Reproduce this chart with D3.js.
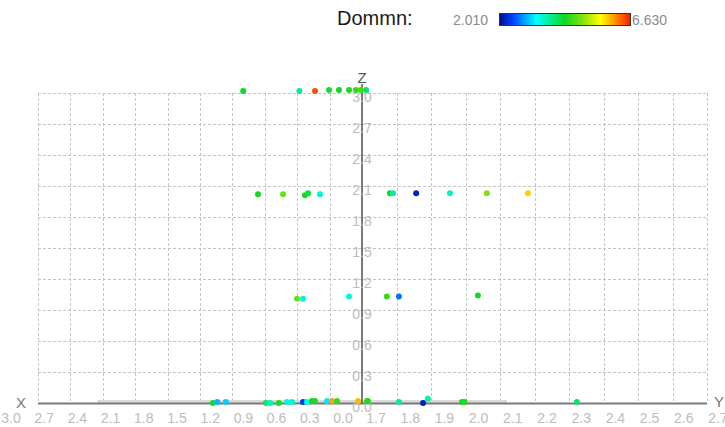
<!DOCTYPE html>
<html>
<head>
<meta charset="utf-8">
<script src="https://cdn.jsdelivr.net/npm/d3@7"></script>
<style>
  html, body { margin: 0; padding: 0; background: #fff; }
  svg { display: block; font-family: "Liberation Sans", Arial, sans-serif; }
</style>
</head>
<body>
<div id="chart"></div>
<script>
// tick labels along the floor and the vertical axis
const xTicks = [3.0, 2.7, 2.4, 2.1, 1.8, 1.5, 1.2, 0.9, 0.6, 0.3, 0.0];
const yTicks = [1.7, 1.8, 1.9, 2.0, 2.1, 2.2, 2.3, 2.4, 2.5, 2.6, 2.7];
const zTicks = [0.0, 0.3, 0.6, 0.9, 1.2, 1.5, 1.8, 2.1, 2.4, 2.7, 3.0];

// colour legend
const legendTitle = "Dommn:";
const valueDomain = [2.010, 6.630];

// points: [floor position, z, value]
// floor position < 0 runs out along X (X units), > 0 along Y (Y units past the axis)
const points = [
    // z ~ 3.0
    [-1.10, 3.02, 4.3], [-0.58, 3.02, 3.8], [-0.435, 3.02, 6.4], [-0.305, 3.03, 4.2],
    [-0.213, 3.03, 4.3], [-0.12, 3.03, 4.4], [-0.056, 3.03, 4.5], [-0.01, 3.03, 4.6],
    [0.012, 3.03, 4.0],
    // z ~ 2.0
    [-0.963, 2.02, 4.3], [-0.731, 2.02, 4.8], [-0.528, 2.01, 4.3], [-0.50, 2.03, 4.2],
    [-0.389, 2.02, 3.5], [0.081, 2.03, 4.3], [0.090, 2.03, 3.7], [0.157, 2.03, 2.2],
    [0.255, 2.03, 3.6], [0.362, 2.03, 4.9], [0.481, 2.03, 5.8],
    // z ~ 1.0
    [-0.602, 1.01, 4.8], [-0.546, 1.01, 3.5], [-0.12, 1.03, 3.5], [0.072, 1.03, 4.5],
    [0.107, 1.03, 2.7], [0.336, 1.04, 4.3],
    // z ~ 0.0
    [-1.38, 0.00, 4.4], [-1.34, 0.01, 3.0], [-1.26, 0.01, 3.1], [-0.89, 0.00, 4.0],
    [-0.85, 0.00, 3.6], [-0.77, 0.00, 4.4], [-0.694, 0.01, 3.5], [-0.648, 0.01, 3.5],
    [-0.546, 0.01, 2.4], [-0.509, 0.01, 3.4], [-0.463, 0.02, 4.3], [-0.435, 0.02, 4.4],
    [-0.324, 0.02, 3.2], [-0.278, 0.02, 6.0], [-0.231, 0.02, 4.5], [-0.037, 0.02, 5.9],
    [0.0145, 0.02, 4.6], [0.017, 0.02, 4.4], [0.107, 0.01, 3.8], [0.177, 0.00, 2.2],
    [0.191, 0.04, 3.7], [0.29, 0.01, 4.3], [0.297, 0.01, 4.4], [0.623, 0.01, 4.0]
];

const width = 725, height = 427;

// back wall grid
const hScale = d3.scaleLinear([-3.0, 0, 1.0], [38, 362, 707]);
const zScale = d3.scaleLinear([0, 3.0], [403, 93]);
// front edge where the floor labels sit
const xLabel = d3.scaleLinear([3.0, 0.0], [11, 343]);
const yLabel = d3.scaleLinear([1.7, 2.7], [376, 718]);

const color = d3.scaleLinear()
    .domain([0, 0.1, 0.28, 0.5, 0.63, 0.77, 0.9, 1].map(t => valueDomain[0] + t * (valueDomain[1] - valueDomain[0])))
    .range(["#000c90", "#0040ff", "#00ffff", "#10d820", "#80e010", "#ffff00", "#ff8000", "#ff1800"])
    .clamp(true);

const svg = d3.select("#chart")
    .append("svg")
    .attr("width", width)
    .attr("height", height)
    .attr("viewBox", [0, 0, width, height]);

// grid
const vLines = d3.range(-3.0, 0.001, 0.3).concat(d3.range(0.1, 1.001, 0.1));
const grid = svg.append("g")
    .attr("stroke", "#c4c4c4")
    .attr("stroke-width", 1)
    .attr("stroke-dasharray", "3,2");

grid.selectAll("line.v")
    .data(vLines)
    .join("line")
    .attr("class", "v")
    .attr("x1", d => Math.round(hScale(d)) + 0.5)
    .attr("x2", d => Math.round(hScale(d)) + 0.5)
    .attr("y1", zScale(3.0))
    .attr("y2", zScale(0));

grid.selectAll("line.h")
    .data(zTicks.filter(d => d > 0))
    .join("line")
    .attr("class", "h")
    .attr("x1", hScale(-3.0))
    .attr("x2", hScale(1.0))
    .attr("y1", d => Math.round(zScale(d)) + 0.5)
    .attr("y2", d => Math.round(zScale(d)) + 0.5);

// floor seen edge-on
svg.append("rect")
    .attr("x", hScale(-2.45))
    .attr("y", zScale(0) - 3)
    .attr("width", hScale(0.42) - hScale(-2.45))
    .attr("height", 3)
    .attr("fill", "#dadada");

svg.append("line")
    .attr("x1", hScale(-3.0))
    .attr("x2", hScale(1.0))
    .attr("y1", zScale(0) + 0.5)
    .attr("y2", zScale(0) + 0.5)
    .attr("stroke", "#7a7a7a")
    .attr("stroke-width", 2);

// z axis
svg.append("line")
    .attr("x1", hScale(0))
    .attr("x2", hScale(0))
    .attr("y1", 84)
    .attr("y2", zScale(0))
    .attr("stroke", "#555")
    .attr("stroke-width", 1.5);

svg.append("g")
    .attr("fill", "#bcbcbc")
    .attr("font-size", 14)
    .attr("text-anchor", "middle")
    .selectAll("text")
    .data(zTicks)
    .join("text")
    .attr("x", hScale(0))
    .attr("y", d => zScale(d) + 4)
    .attr("dy", "0.35em")
    .text(d => d.toFixed(1));

// floor labels
const floorLabels = svg.append("g")
    .attr("fill", "#bcbcbc")
    .attr("font-size", 14)
    .attr("text-anchor", "middle");

floorLabels.selectAll("text.x")
    .data(xTicks)
    .join("text")
    .attr("class", "x")
    .attr("x", d => xLabel(d))
    .attr("y", 418)
    .attr("dy", "0.35em")
    .text(d => d.toFixed(1));

floorLabels.selectAll("text.y")
    .data(yTicks)
    .join("text")
    .attr("class", "y")
    .attr("x", d => yLabel(d))
    .attr("y", 418)
    .attr("dy", "0.35em")
    .text(d => d.toFixed(1));

// axis names
svg.append("text").attr("x", 21).attr("y", 403).attr("dy", "0.35em")
    .attr("text-anchor", "middle").attr("font-size", 15).attr("fill", "#777").text("X");
svg.append("text").attr("x", 719).attr("y", 402).attr("dy", "0.35em")
    .attr("text-anchor", "middle").attr("font-size", 15).attr("fill", "#777").text("Y");
svg.append("text").attr("x", hScale(0)).attr("y", 78).attr("dy", "0.35em")
    .attr("text-anchor", "middle").attr("font-size", 15).attr("fill", "#555").text("Z");

// points
svg.append("g")
    .selectAll("circle")
    .data(points)
    .join("circle")
    .attr("cx", d => hScale(d[0]))
    .attr("cy", d => zScale(d[1]))
    .attr("r", 3)
    .attr("fill", d => color(d[2]));

// legend
const legend = svg.append("g");

legend.append("text")
    .attr("x", 337).attr("y", 18).attr("dy", "0.35em")
    .attr("font-size", 20).attr("fill", "#1a1a1a")
    .text(legendTitle);

legend.append("text")
    .attr("x", 488).attr("y", 20).attr("dy", "0.35em")
    .attr("text-anchor", "end")
    .attr("font-size", 14).attr("fill", "#8a8a8a")
    .text(valueDomain[0].toFixed(3));

legend.append("text")
    .attr("x", 632).attr("y", 20).attr("dy", "0.35em")
    .attr("font-size", 14).attr("fill", "#8a8a8a")
    .text(valueDomain[1].toFixed(3));

const grad = svg.append("defs")
    .append("linearGradient")
    .attr("id", "ramp");

grad.selectAll("stop")
    .data(color.domain())
    .join("stop")
    .attr("offset", d => (d - valueDomain[0]) / (valueDomain[1] - valueDomain[0]))
    .attr("stop-color", d => color(d));

legend.append("rect")
    .attr("x", 499.5).attr("y", 13.5)
    .attr("width", 131).attr("height", 12)
    .attr("fill", "url(#ramp)")
    .attr("stroke", "#333")
    .attr("stroke-width", 1);
</script>
</body>
</html>
